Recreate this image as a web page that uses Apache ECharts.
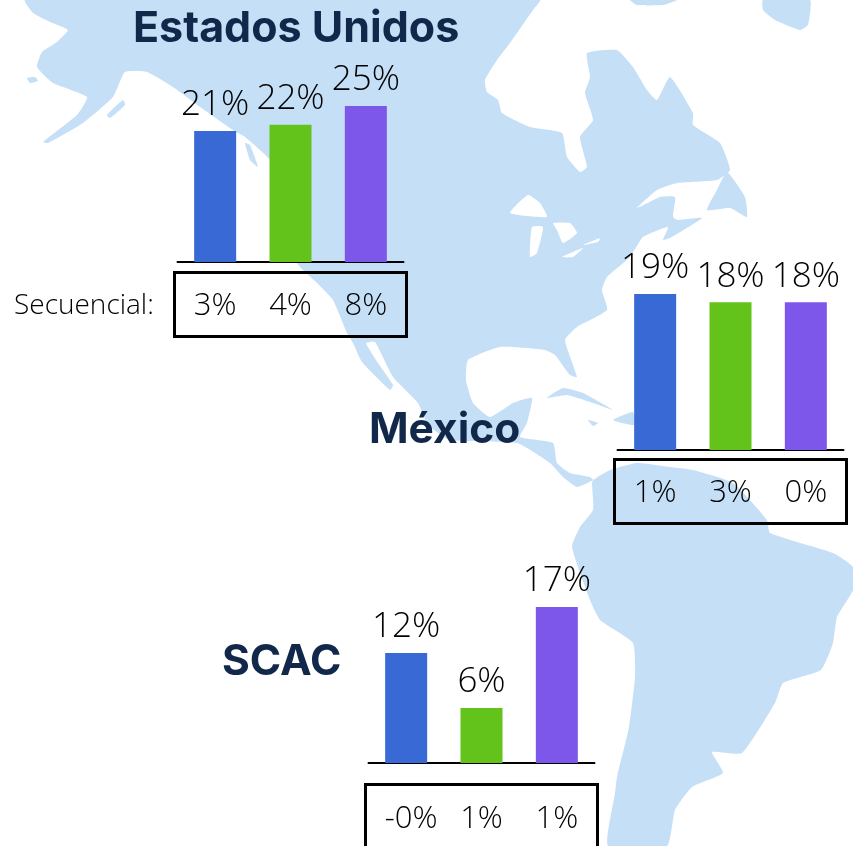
<!DOCTYPE html>
<html>
<head>
<meta charset="utf-8">
<style>html,body{margin:0;padding:0;background:#fff}#c{width:853px;height:846px}</style>
<script src="https://cdn.jsdelivr.net/npm/echarts@6/dist/echarts.min.js"></script>
</head>
<body>
<div id="c"></div>
<script>
// chart data
const valoresEU = [21, 22, 25];
const valoresMX = [19, 18, 18];
const valoresSCAC = [12, 6, 17];
const secuencialEU = ['3%', '4%', '8%'];
const secuencialMX = ['1%', '3%', '0%'];
const secuencialSCAC = ['-0%', '1%', '1%'];
const colores = ['#3869D4', '#63C31B', '#7D57EA'];

// decorative background map outlines
const tierraNorte = [[25,0],[33,13],[50,22],[68,30],[57,42],[42,52],[37,67],[53,83],[87,97],[77,115],[43,142],[48,143],[83,123],[113,97],[125,72],[147,72],[173,87],[200,107],[233,130],[245,137],[270,160],[283,195],[297,263],[317,283],[333,300],[347,333],[353,343],[362,362],[390,390],[393,385],[378,363],[366,343],[375,342],[393,377],[418,403],[428,425],[450,440],[517,443],[550,463],[563,477],[577,487],[593,480],[590,477],[570,473],[557,463],[553,443],[520,437],[527,423],[532,398],[513,403],[490,417],[473,403],[466,380],[468,360],[500,347],[545,350],[555,355],[570,375],[577,377],[565,340],[577,327],[607,310],[602,290],[607,277],[630,257],[643,237],[668,227],[663,240],[670,238],[702,218],[678,220],[673,217],[675,197],[660,197],[637,208],[657,190],[677,183],[717,180],[730,170],[720,143],[693,125],[693,113],[670,77],[657,100],[647,90],[633,67],[617,50],[587,53],[590,77],[585,93],[593,120],[580,137],[587,167],[580,172],[567,157],[562,133],[530,127],[502,113],[498,100],[487,92],[485,80],[497,60],[510,43],[533,10],[540,0]];
const tierraSur = [[593,480],[610,470],[637,463],[670,467],[693,470],[733,483],[767,520],[770,533],[833,553],[853,567],[853,590],[837,617],[833,643],[821,670],[783,683],[775,703],[742,753],[712,752],[723,773],[692,787],[675,810],[667,846],[608,846],[615,793],[617,777],[629,727],[635,677],[633,643],[600,620],[590,600],[572,547],[580,527],[593,510],[592,483]];
const islas = [
  [[727,172],[717,190],[707,210],[730,208],[747,217],[745,197]],
  [[630,0],[677,0],[663,5],[637,5]],
  [[763,0],[810,0],[808,25],[800,30],[775,20],[763,10]],
  [[547,398],[563,388],[583,393],[613,410],[593,403],[567,395]],
  [[613,420],[633,412],[634,425]],
  [[588,420],[598,423],[593,426]],
  [[107,115],[123,100],[125,105],[110,118]],
  [[27,78],[35,77],[38,81],[30,83]],
  [[245,143],[250,145],[258,167],[250,160]]
];
const lagos = [
  [[510,213],[528,195],[540,203],[547,217]],
  [[530,257],[532,227],[543,227],[537,253]],
  [[553,223],[570,223],[577,233],[563,243],[557,230]],
  [[562,257],[583,248],[573,257]],
  [[583,245],[600,238],[598,242]]
];

const AZUL_MAPA = '#C5DFF6', NAVY = '#12284B', FUENTE = '"Open Sans"';

function poly(points, fill, z) {
  return { type: 'polygon', z: z, silent: true, shape: { points: points, smooth: 0.15 }, style: { fill: fill } };
}
function caja(x, y, w, h) {
  return { type: 'rect', z: 3, silent: true, shape: { x: x, y: y, width: w, height: h }, style: { fill: 'transparent', stroke: '#000', lineWidth: 3 } };
}
function texto(t, x, y, size, weight, color, family) {
  return { type: 'text', z: 5, silent: true, x: x, y: y, style: { text: t, font: weight + ' ' + size + 'px ' + family, fill: color, textVerticalAlign: 'middle', verticalAlign: 'middle' } };
}

const regiones = [
  { valores: valoresEU, sec: secuencialEU, left: 177.5, top: 106, max: 25, margin: 29 },
  { valores: valoresMX, sec: secuencialMX, left: 617.5, top: 294, max: 19, margin: 28 },
  { valores: valoresSCAC, sec: secuencialSCAC, left: 368.5, top: 607, max: 17, margin: 41 }
];

const option = {
  animation: false,
  backgroundColor: '#fff',
  graphic: [
    poly(tierraNorte, AZUL_MAPA, 0),
    poly(tierraSur, AZUL_MAPA, 0),
    ...islas.map(p => poly(p, AZUL_MAPA, 0)),
    ...lagos.map(p => poly(p, '#fff', 1)),
    caja(174.5, 272.5, 232, 64),
    caja(614.5, 459.5, 232, 64),
    caja(365.5, 784.5, 232, 80),
    texto('Estados Unidos', 133, 29, 43, 700, NAVY, 'Inter'),
    texto('México', 369, 430, 42.5, 700, NAVY, 'Inter'),
    texto('SCAC', 222, 662, 42.5, 700, NAVY, 'Inter'),
    texto('Secuencial:', 14, 306, 28, 300, '#000', FUENTE)
  ],
  grid: regiones.map(r => ({ left: r.left, top: r.top, width: 226, height: 156 })),
  xAxis: regiones.map((r, i) => ({
    type: 'category', gridIndex: i,
    data: r.sec.map(s => s.length > 2 ? { value: s, textStyle: { padding: [0, 0, 0, 10] } } : s),
    axisTick: { show: false },
    axisLine: { lineStyle: { color: '#000', width: 2 } },
    axisLabel: { margin: r.margin, fontSize: 31, fontWeight: 300, fontFamily: FUENTE, color: '#000', interval: 0 }
  })),
  yAxis: regiones.map((r, i) => ({ type: 'value', gridIndex: i, min: 0, max: r.max, show: false, splitLine: { show: false } })),
  series: regiones.map((r, i) => ({
    type: 'bar', xAxisIndex: i, yAxisIndex: i, barWidth: 42, z: 4,
    data: r.valores.map((v, k) => ({ value: v, itemStyle: { color: colores[k] } })),
    label: { show: true, position: 'top', distance: 8, formatter: '{c}%', fontSize: 35, fontWeight: 300, fontFamily: FUENTE, color: '#000' }
  }))
};
echarts.init(document.getElementById('c'), null, { renderer: 'canvas' }).setOption(option);
</script>
</body>
</html>
